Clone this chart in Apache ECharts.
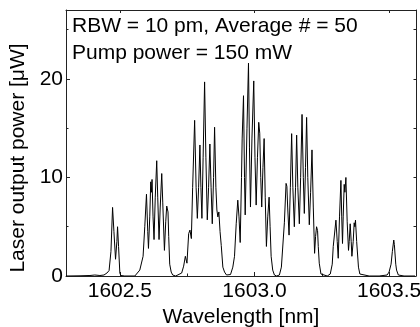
<!DOCTYPE html>
<html>
<head>
<meta charset="utf-8">
<script src="https://cdn.jsdelivr.net/npm/echarts@6/dist/echarts.min.js"></script>
<style>html,body{margin:0;padding:0;background:#fff;}#c{width:420px;height:327px;}</style>
</head>
<body>
<div id="c"></div>
<script>
var wavelength = [1602.30,1602.352,1602.389,1602.407,1602.426,1602.441,1602.452,1602.460,1602.467,1602.473,1602.478,1602.484,1602.489,1602.4915,1602.4952,1602.500,1602.5037,1602.5185,1602.5556,1602.5741,1602.5863,1602.5926,1602.5989,1602.6037,1602.6063,1602.6111,1602.6148,1602.6174,1602.6196,1602.6233,1602.6270,1602.6315,1602.6370,1602.6407,1602.6456,1602.6500,1602.6556,1602.6593,1602.6656,1602.6704,1602.6741,1602.6789,1602.6815,1602.6852,1602.6907,1602.6963,1602.7074,1602.7148,1602.7296,1602.7370,1602.7433,1602.7493,1602.7556,1602.7604,1602.7656,1602.7704,1602.7778,1602.7833,1602.7878,1602.7926,1602.7974,1602.8011,1602.8048,1602.8093,1602.8148,1602.8196,1602.8248,1602.8296,1602.8344,1602.8389,1602.8433,1602.8481,1602.8519,1602.8567,1602.8604,1602.8641,1602.8678,1602.8722,1602.8767,1602.8826,1602.8889,1602.8963,1602.9037,1602.9111,1602.9196,1602.9259,1602.9322,1602.9381,1602.9426,1602.9470,1602.9519,1602.9544,1602.9567,1602.9593,1602.9630,1602.9656,1602.9722,1602.9778,1602.9815,1602.9852,1602.9907,1602.9974,1603.0019,1603.0063,1603.0111,1603.0159,1603.0196,1603.0233,1603.0270,1603.0315,1603.0359,1603.0400,1603.0444,1603.0493,1603.0544,1603.0581,1603.0619,1603.0678,1603.0741,1603.0826,1603.0926,1603.1000,1603.1048,1603.1111,1603.1174,1603.1204,1603.1233,1603.1285,1603.1333,1603.1381,1603.1426,1603.1481,1603.1526,1603.1567,1603.1611,1603.1667,1603.1715,1603.1767,1603.1815,1603.1852,1603.1896,1603.1937,1603.1981,1603.2037,1603.2085,1603.2137,1603.2185,1603.2233,1603.2270,1603.2307,1603.2344,1603.2370,1603.2407,1603.2470,1603.2519,1603.2704,1603.2815,1603.2889,1603.2926,1603.3026,1603.3074,1603.3111,1603.3159,1603.3211,1603.3241,1603.3270,1603.3296,1603.3333,1603.3359,1603.3396,1603.3444,1603.3493,1603.3519,1603.3556,1603.3593,1603.3619,1603.3667,1603.3704,1603.3730,1603.3752,1603.3796,1603.3863,1603.3915,1603.3963,1603.4259,1603.4630,1603.4926,1603.5000,1603.5074,1603.5122,1603.5174,1603.5196,1603.5248,1603.5278,1603.5344,1603.5556,1603.5963];
var power = [0.0,0.02,0.05,0.1,0.05,0.1,0.3,0.55,2.5,6.96,4.5,1.7,3.5,5.0,3.0,0.3,0.05,0.0,0.0,0.6,2.0,5,8.3,4.5,2.8,6,9.56,8.5,9.8,6,3.7,8,11.7,8,3.7,7,10.4,7.5,2.6,5.5,7.1,6.5,4,1.2,0.4,0.1,0.0,0.0,0.3,1.0,2.0,1.3,4.3,4.66,3.8,9,15.8,9,5.85,9,13.3,9,5.85,12,19.7,12,5.7,9,13.4,9,5.3,10,15.1,9,6.7,6.0,6.5,4.5,3.1,0.9,0.4,0.1,0.0,0.15,0.9,2,5.3,7.7,6,3.4,10,14.0,14.2,18.3,10,6.2,15,21.6,13,7.0,14,19.8,12,7.2,12,15.6,14.5,10,7.0,11,13.95,8,3.0,6,8.0,5,2,0.6,0.1,0.0,0.1,0.9,1.0,5.4,9.4,9.1,7,4.15,9,14.45,9,5.0,9,14.3,9,5.3,10,16.4,10,6.35,11,16.1,10,5.2,8.5,12.8,7,2.3,4,5.0,4.6,3,1.3,0.2,0.0,0.0,0.2,1.2,3,5.67,3.5,1.8,6,9.7,6,3.3,6,9.3,8.5,10.0,5.5,2.6,3.5,5.3,3.5,2.0,3.5,5.4,5.0,5.67,3.5,0.9,0.2,0.05,0.0,0.0,0.1,0.4,1.2,2.5,3.65,3.2,1.2,0.6,0.1,0.0,0.0];
var xMajorTicks = [1602.5, 1603.0, 1603.5];
var xMinorTicks = [1602.75, 1603.25];
var yMajorTicks = [0, 10, 20];
var yMinorTicks = [5, 15, 25];
var annotationLines = ['RBW = 10 pm, Average # = 50', 'Pump power = 150 mW'];

var FONT = 'Liberation Sans, Arial, sans-serif';
var chart = echarts.init(document.getElementById('c'), null, {renderer: 'canvas'});
var seriesData = wavelength.map(function (w, i) { return [w, power[i]]; });
var xr = {min: 1602.3, max: 1603.6};
var yr = {min: 0, max: 27};
var lineCol = '#222';
function hiddenAxis(extra) {
  return Object.assign({
    type: 'value', gridIndex: 0, splitLine: {show: false},
    axisLabel: {show: false}, axisLine: {show: false}
  }, extra);
}
chart.setOption({
  animation: false,
  backgroundColor: '#fff',
  grid: {left: 66, right: 4, top: 10, bottom: 51, containLabel: false, outerBoundsMode: 'none'},
  xAxis: [
    {
      type: 'value', min: xr.min, max: xr.max, position: 'bottom',
      name: 'Wavelength [nm]', nameLocation: 'middle', nameGap: 27,
      nameTextStyle: {fontFamily: FONT, fontSize: 21, color: '#000'},
      axisLine: {show: true, onZero: false, lineStyle: {color: lineCol, width: 1}},
      axisTick: {show: true, inside: true, length: 4, customValues: xMajorTicks, lineStyle: {color: lineCol}},
      axisLabel: {show: true, customValues: xMajorTicks, margin: 5, fontFamily: FONT, fontSize: 21, color: '#000',
        formatter: function (v) { return v.toFixed(1); }},
      splitLine: {show: false}
    },
    hiddenAxis({min: xr.min, max: xr.max, position: 'bottom',
      axisTick: {show: true, inside: true, length: 2.5, customValues: xMinorTicks, lineStyle: {color: lineCol}}}),
    hiddenAxis({min: xr.min, max: xr.max, position: 'top',
      axisLine: {show: true, onZero: false, lineStyle: {color: lineCol, width: 1}},
      axisTick: {show: true, inside: true, length: 3, customValues: xMajorTicks, lineStyle: {color: lineCol}}})
  ],
  yAxis: [
    {
      type: 'value', min: yr.min, max: yr.max, position: 'left',
      name: 'Laser output power [\u03bcW]', nameLocation: 'middle', nameGap: 26,
      nameTextStyle: {fontFamily: FONT, fontSize: 21, color: '#000', padding: [0, 30, 0, 0]},
      axisLine: {show: true, onZero: false, lineStyle: {color: lineCol, width: 1}},
      axisTick: {show: true, inside: true, length: 4, customValues: yMajorTicks, lineStyle: {color: lineCol}},
      axisLabel: {show: true, customValues: yMajorTicks, margin: 3, fontFamily: FONT, fontSize: 21, color: '#000'},
      splitLine: {show: false}
    },
    hiddenAxis({min: yr.min, max: yr.max, position: 'left',
      axisTick: {show: true, inside: true, length: 2.5, customValues: yMinorTicks, lineStyle: {color: lineCol}}}),
    hiddenAxis({min: yr.min, max: yr.max, position: 'right',
      axisLine: {show: true, onZero: false, lineStyle: {color: lineCol, width: 1}},
      axisTick: {show: true, inside: true, length: 2.5, customValues: yMajorTicks.concat(yMinorTicks), lineStyle: {color: lineCol}}})
  ],
  graphic: [
    {type: 'text', left: 72, top: 13, style: {text: annotationLines.join('\n'), fontFamily: FONT, fontSize: 21, lineHeight: 27, fill: '#000'}}
  ],
  series: [{
    type: 'line', xAxisIndex: 0, yAxisIndex: 0, data: seriesData,
    showSymbol: false, symbol: 'none', smooth: false,
    lineStyle: {color: '#000', width: 1},
    clip: true
  }]
});
</script>
</body>
</html>
